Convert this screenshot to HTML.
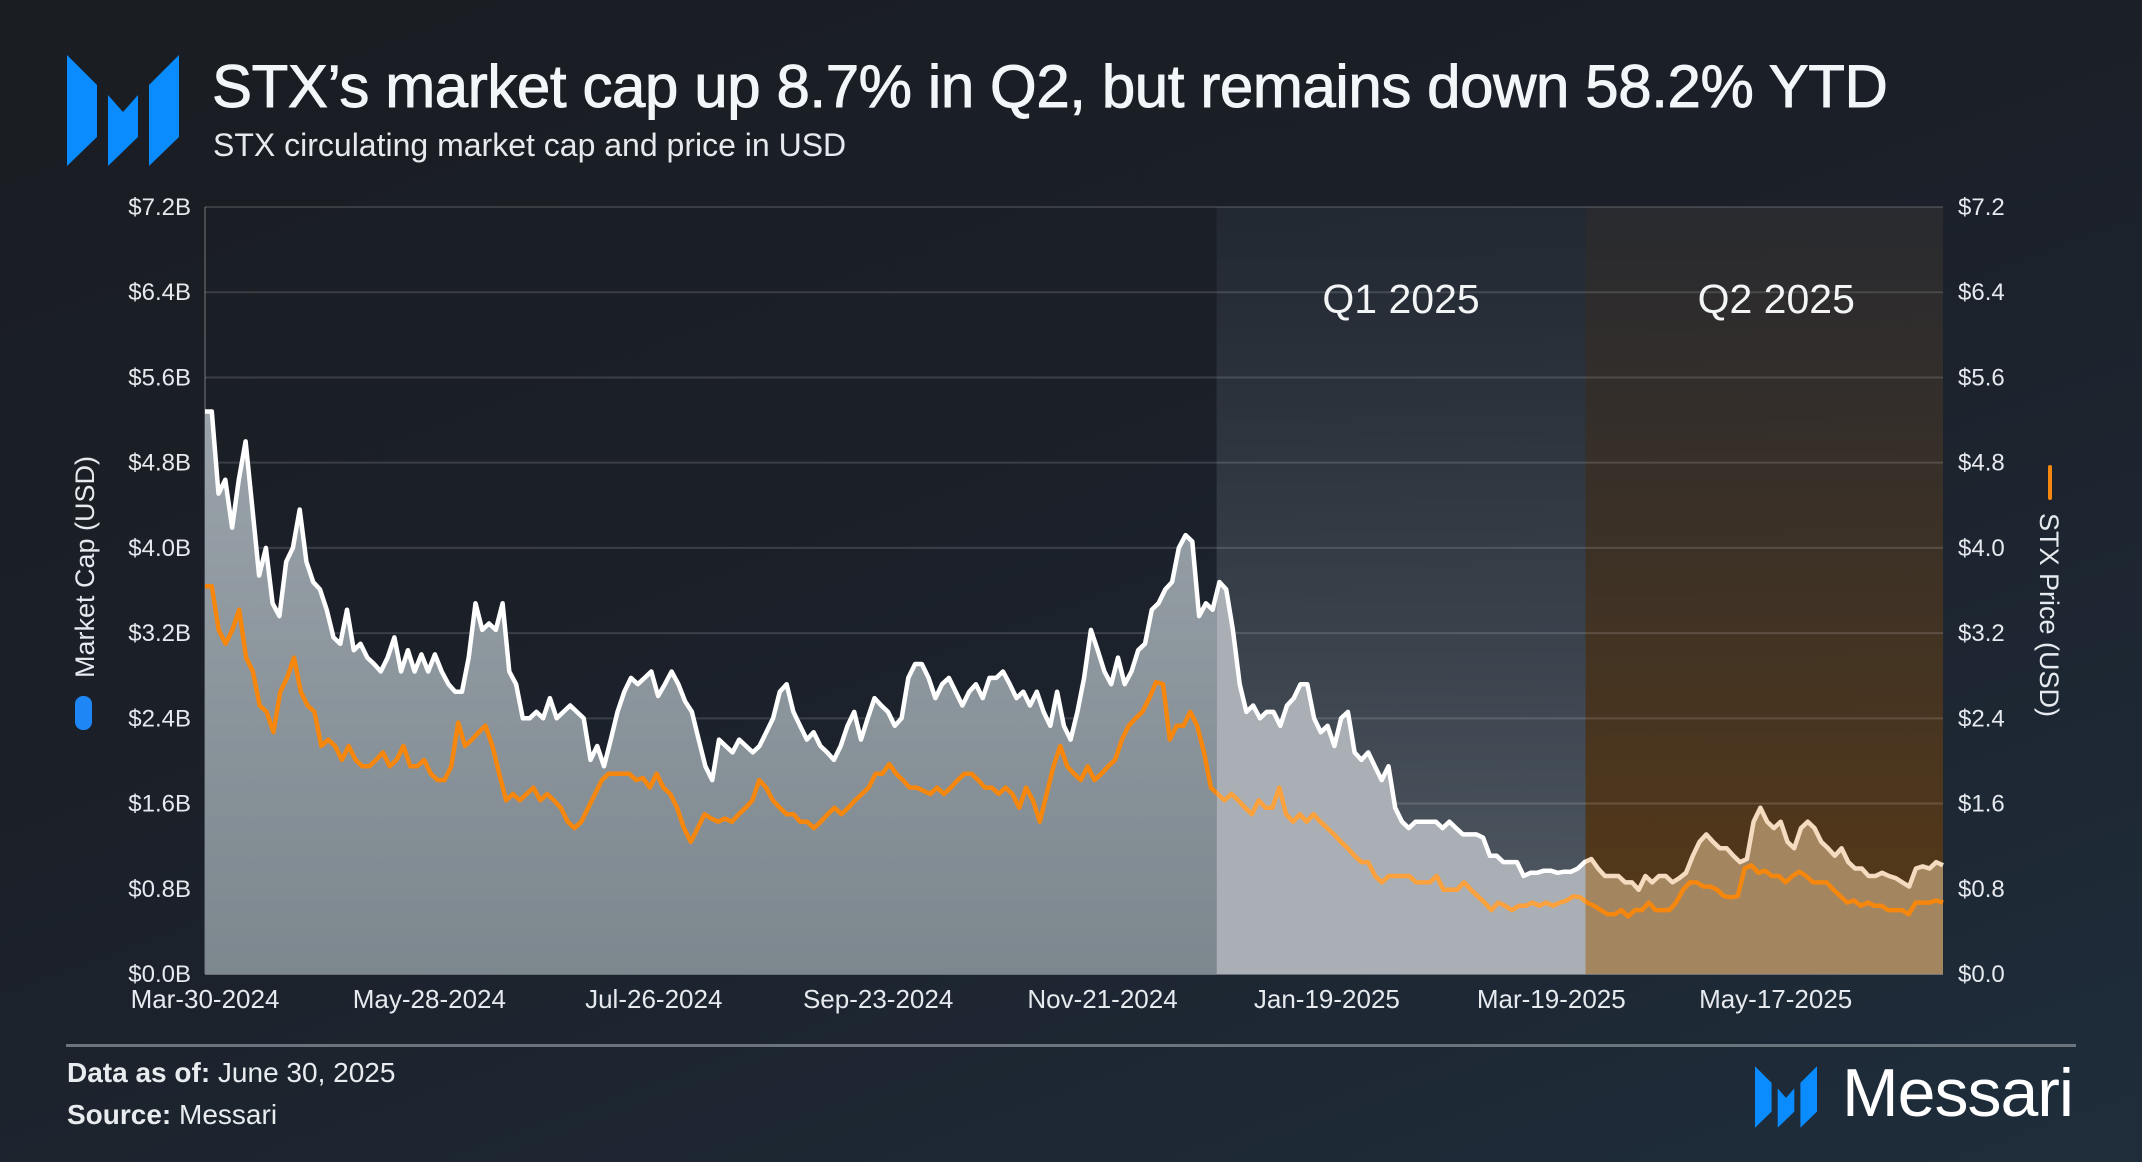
<!DOCTYPE html>
<html><head><meta charset="utf-8">
<style>
html,body{margin:0;padding:0;}
body{width:2142px;height:1162px;overflow:hidden;background:linear-gradient(160deg,#1a1d22 0%,#1b2029 45%,#1f2d3b 100%);font-family:"Liberation Sans",sans-serif;color:#fff;position:relative;}
.abs{position:absolute;}
</style></head>
<body>
<svg class="abs" style="left:0;top:0" width="200" height="200">
<polygon points="67,55 97,85 97,137 67,166" fill="#0a8cff"/>
<polygon points="108,95 123,112 138,95 138,137 108,166" fill="#0a8cff"/>
<polygon points="179,55 149,85 149,166 179,137" fill="#0a8cff"/>
</svg>
<div class="abs" style="left:212px;top:52px;font-size:60px;font-weight:normal;-webkit-text-stroke:0.9px #f3f6f8;letter-spacing:-0.4px;color:#f3f6f8">STX’s market cap up 8.7% in Q2, but remains down 58.2% YTD</div>
<div class="abs" style="left:213px;top:127px;font-size:32px;color:#e6eaee">STX circulating market cap and price in USD</div>

<svg id="chart" class="abs" style="left:0;top:0" width="2142" height="1162"></svg>

<div class="abs" style="left:66px;top:1044px;width:2010px;height:3px;background:#6b737c"></div>
<div class="abs" style="left:67px;top:1057px;font-size:28px;color:#e8ecef"><b>Data as of:</b> June 30, 2025</div>
<div class="abs" style="left:67px;top:1099px;font-size:28px;color:#e8ecef"><b>Source:</b> Messari</div>
<svg class="abs" style="left:1755px;top:1066px" width="62" height="62" viewBox="67 55 112 111">
<polygon points="67,55 97,85 97,137 67,166" fill="#0a8cff"/>
<polygon points="108,95 123,112 138,95 138,137 108,166" fill="#0a8cff"/>
<polygon points="179,55 149,85 149,166 179,137" fill="#0a8cff"/>
</svg>
<div class="abs" style="left:1842px;top:1054px;font-size:68px;font-weight:500;letter-spacing:-1px;color:#fff">Messari</div>

<script>
const yTicks=[0,0.8,1.6,2.4,3.2,4.0,4.8,5.6,6.4,7.2];
const xTickLabels=["Mar-30-2024","May-28-2024","Jul-26-2024","Sep-23-2024","Nov-21-2024","Jan-19-2025","Mar-19-2025","May-17-2025"];
const xTickDays=[0,59,118,177,236,295,354,413];
const totalDays=457;
const q1StartDay=266;
const q2StartDay=363;
const marketCap=[5.28,5.28,4.51,4.64,4.19,4.64,5.0,4.38,3.74,4.0,3.48,3.36,3.87,4.0,4.36,3.87,3.68,3.61,3.42,3.16,3.10,3.42,3.04,3.10,2.97,2.91,2.84,2.97,3.16,2.84,3.04,2.84,3.0,2.84,3.0,2.84,2.72,2.65,2.65,2.97,3.48,3.23,3.29,3.23,3.48,2.84,2.72,2.40,2.40,2.46,2.40,2.59,2.40,2.46,2.52,2.46,2.40,2.01,2.14,1.95,2.20,2.46,2.65,2.78,2.72,2.78,2.84,2.61,2.72,2.84,2.72,2.56,2.46,2.20,1.95,1.82,2.20,2.14,2.08,2.20,2.14,2.08,2.14,2.27,2.40,2.65,2.72,2.46,2.33,2.20,2.27,2.14,2.08,2.01,2.14,2.33,2.46,2.20,2.40,2.59,2.52,2.46,2.33,2.40,2.78,2.91,2.91,2.78,2.59,2.72,2.78,2.65,2.52,2.65,2.72,2.59,2.78,2.78,2.84,2.72,2.59,2.65,2.52,2.65,2.46,2.33,2.65,2.33,2.20,2.46,2.78,3.23,3.04,2.84,2.72,2.97,2.72,2.84,3.04,3.10,3.42,3.48,3.61,3.68,4.0,4.12,4.06,3.36,3.48,3.42,3.68,3.61,3.23,2.72,2.46,2.52,2.40,2.46,2.46,2.33,2.52,2.59,2.72,2.72,2.40,2.27,2.33,2.14,2.40,2.46,2.08,2.01,2.08,1.95,1.82,1.95,1.56,1.43,1.37,1.43,1.43,1.43,1.43,1.37,1.43,1.37,1.31,1.31,1.31,1.28,1.11,1.11,1.05,1.05,1.05,0.92,0.95,0.95,0.97,0.97,0.95,0.96,0.96,0.99,1.05,1.08,0.99,0.92,0.92,0.92,0.86,0.86,0.79,0.92,0.86,0.92,0.92,0.86,0.90,0.95,1.11,1.24,1.31,1.24,1.18,1.18,1.11,1.05,1.08,1.43,1.56,1.43,1.37,1.43,1.24,1.18,1.37,1.43,1.37,1.24,1.18,1.11,1.18,1.05,0.99,0.99,0.92,0.92,0.95,0.92,0.90,0.86,0.82,0.99,1.01,0.99,1.05,1.02];
const price=[3.64,3.64,3.23,3.10,3.23,3.42,2.97,2.84,2.52,2.46,2.27,2.65,2.78,2.97,2.65,2.52,2.46,2.14,2.20,2.14,2.01,2.14,2.01,1.95,1.95,2.01,2.08,1.95,2.01,2.14,1.95,1.95,2.01,1.88,1.82,1.82,1.95,2.36,2.14,2.20,2.27,2.33,2.14,1.88,1.63,1.69,1.63,1.69,1.75,1.63,1.69,1.63,1.56,1.43,1.37,1.43,1.56,1.69,1.82,1.88,1.88,1.88,1.88,1.82,1.84,1.75,1.88,1.75,1.69,1.56,1.37,1.24,1.37,1.50,1.46,1.43,1.46,1.43,1.50,1.56,1.63,1.82,1.75,1.63,1.56,1.50,1.50,1.43,1.43,1.37,1.43,1.50,1.56,1.50,1.56,1.63,1.69,1.75,1.88,1.88,1.97,1.88,1.82,1.75,1.75,1.72,1.69,1.75,1.69,1.75,1.82,1.88,1.88,1.82,1.75,1.75,1.69,1.75,1.69,1.56,1.75,1.63,1.43,1.69,1.95,2.14,1.95,1.88,1.82,1.95,1.82,1.88,1.95,2.01,2.20,2.33,2.40,2.46,2.59,2.74,2.72,2.20,2.33,2.33,2.46,2.33,2.08,1.75,1.69,1.63,1.69,1.63,1.56,1.50,1.63,1.56,1.56,1.75,1.50,1.43,1.50,1.43,1.50,1.43,1.37,1.31,1.24,1.18,1.11,1.05,1.05,0.92,0.86,0.92,0.92,0.92,0.92,0.86,0.86,0.86,0.92,0.79,0.79,0.79,0.86,0.79,0.73,0.67,0.60,0.67,0.64,0.60,0.64,0.64,0.67,0.64,0.67,0.64,0.67,0.69,0.73,0.72,0.67,0.64,0.60,0.56,0.56,0.60,0.54,0.60,0.60,0.67,0.60,0.60,0.60,0.67,0.79,0.86,0.86,0.82,0.82,0.79,0.73,0.72,0.73,0.99,1.02,0.95,0.97,0.92,0.92,0.86,0.92,0.96,0.92,0.86,0.86,0.86,0.79,0.73,0.67,0.69,0.64,0.67,0.64,0.64,0.60,0.60,0.60,0.56,0.67,0.67,0.67,0.69,0.67];

const NS="http://www.w3.org/2000/svg";
const svg=document.getElementById('chart');
const L=205,R=1943,T=207,B=974,YMAX=7.2;
const xDay=d=>L+d/totalDays*(R-L);
const xIdx=(i,n)=>L+i/(n-1)*(R-L);
const y=v=>B-v/YMAX*(B-T);
function mk(tag,attrs,parent){const e=document.createElementNS(NS,tag);for(const k in attrs)e.setAttribute(k,attrs[k]);(parent||svg).appendChild(e);return e;}

const defs=mk('defs',{});
defs.innerHTML=`
<linearGradient id="gQ1" x1="0" y1="0" x2="0" y2="1"><stop offset="0" stop-color="#2a323c" stop-opacity="0.5"/><stop offset="1" stop-color="#5a636c" stop-opacity="0.9"/></linearGradient>
<linearGradient id="gQ2" x1="0" y1="0" x2="0" y2="1"><stop offset="0" stop-color="#2c2d31" stop-opacity="0.8"/><stop offset="1" stop-color="#5a3a16" stop-opacity="1"/></linearGradient>
<linearGradient id="gArea0" x1="0" y1="0" x2="0" y2="1"><stop offset="0" stop-color="#9aa3aa"/><stop offset="1" stop-color="#7d878e"/></linearGradient>
<clipPath id="c0"><rect x="${L}" y="0" width="${xDay(q1StartDay)-L}" height="1162"/></clipPath>
<clipPath id="c1"><rect x="${xDay(q1StartDay)}" y="0" width="${xDay(q2StartDay)-xDay(q1StartDay)}" height="1162"/></clipPath>
<clipPath id="c2"><rect x="${xDay(q2StartDay)}" y="0" width="${R-xDay(q2StartDay)+4}" height="1162"/></clipPath>`;

const s1=mk('rect',{x:xDay(q1StartDay),y:T,width:xDay(q2StartDay)-xDay(q1StartDay),height:B-T,fill:'url(#gQ1)'});


const s2=mk('rect',{x:xDay(q2StartDay),y:T,width:R-xDay(q2StartDay),height:B-T,fill:'url(#gQ2)'});



yTicks.forEach((v,i)=>{
  const g=mk('line',{x1:L,x2:R,y1:y(v),y2:y(v),stroke:'#ffffff','stroke-opacity':i==0?0.35:0.14,'stroke-width':2});
  
  
  const tl=mk('text',{x:191,y:y(v)+8,'text-anchor':'end','font-size':24,fill:'#e6eaee'});
  tl.textContent='$'+v.toFixed(1)+'B';
  
  
  const tr=mk('text',{x:1958,y:y(v)+8,'font-size':24,fill:'#e6eaee'});
  tr.textContent='$'+v.toFixed(1);
  
  
});
mk('line',{x1:L,x2:L,y1:T,y2:B,stroke:'#ffffff','stroke-opacity':0.2,'stroke-width':2});
xTickLabels.forEach((lab,i)=>{
  const t=mk('text',{x:xDay(xTickDays[i]),y:1008,'text-anchor':'middle','font-size':26,fill:'#e6eaee'});
  t.textContent=lab;
  
  
});

function pts(arr){return arr.map((v,i)=>xIdx(i,arr.length).toFixed(1)+','+y(v).toFixed(1));}
const mcPts=pts(marketCap), prPts=pts(price);
const areaD='M'+L+','+B+' L'+mcPts.join(' L')+' L'+R+','+B+' Z';
const fills=[['c0','url(#gArea0)'],['c1','#a9afb4'],['c2','#a3855f']];
fills.forEach(([c,f])=>{
  const a=mk('path',{d:areaD,fill:f,'clip-path':`url(#${c})`});
  
  
});
const lineD=p=>'M'+p.join(' L');
const mcColors=[['c0','#ffffff'],['c1','#ffffff'],['c2','#f5dcc0']];
mcColors.forEach(([c,col])=>{
  const l=mk('path',{d:lineD(mcPts),fill:'none',stroke:col,'stroke-width':4.5,'stroke-linejoin':'round','clip-path':`url(#${c})`});
  
  
});
const prColors=[['c0','#f5870f'],['c1','#fba13e'],['c2','#f5870f']];
prColors.forEach(([c,col])=>{
  const l=mk('path',{d:lineD(prPts),fill:'none',stroke:col,'stroke-width':4.5,'stroke-linejoin':'round','clip-path':`url(#${c})`});
  
  
});

const q1=mk('text',{x:(xDay(q1StartDay)+xDay(q2StartDay))/2,y:313,'text-anchor':'middle','font-size':41,fill:'#f2f4f6'});
q1.textContent='Q1 2025';


const q2=mk('text',{x:(xDay(q2StartDay)+R)/2+12,y:313,'text-anchor':'middle','font-size':41,fill:'#f2f4f6'});
q2.textContent='Q2 2025';



const lt=mk('text',{x:0,y:0,'text-anchor':'middle','font-size':27,fill:'#e6eaee',transform:'translate(94,567) rotate(-90)'});
lt.textContent='Market Cap (USD)';


const ld=mk('rect',{x:75,y:696,width:17,height:34,rx:8,fill:'#1e86f5'});


const rt=mk('text',{x:0,y:0,'text-anchor':'middle','font-size':27,fill:'#e6eaee',transform:'translate(2040,615) rotate(90)'});
rt.textContent='STX Price (USD)';


const rd=mk('rect',{x:2048,y:465,width:4,height:35,rx:2,fill:'#f5870f'});


</script>
</body></html>
